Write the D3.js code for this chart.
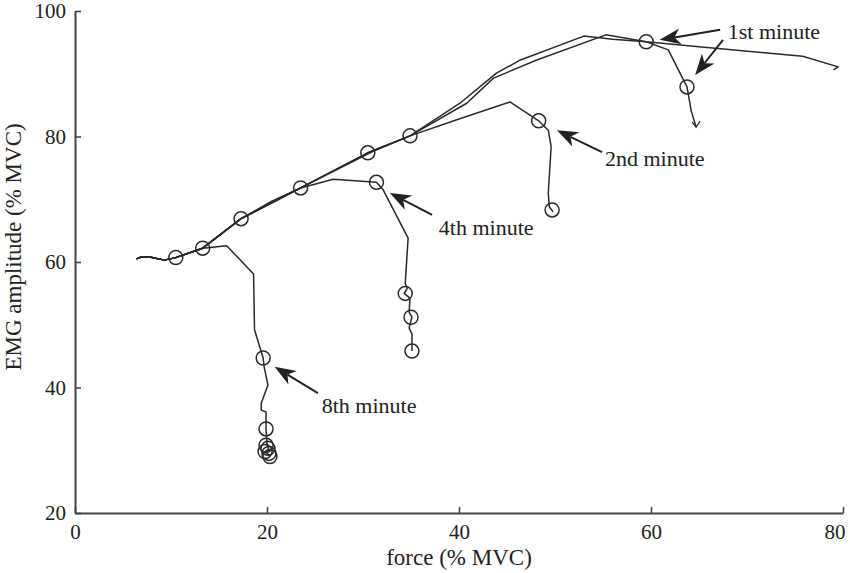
<!DOCTYPE html>
<html>
<head>
<meta charset="utf-8">
<script src="https://cdn.jsdelivr.net/npm/d3@7"></script>
<style>
  body { margin: 0; background: #fff; }
  svg { display: block; }
</style>
</head>
<body>
<svg width="850" height="573"></svg>
<script>
// Tick values for the two axes
var xTicks = [0, 20, 40, 60, 80];
var yTicks = [20, 40, 60, 80, 100];

// Shared start of every trace (low force, ~60 % EMG)
var startPath = [[6.4, 60.5], [6.9, 60.8], [7.8, 60.8], [9.3, 60.3], [10.5, 60.7], [13.3, 62.2]];

// EMG amplitude vs force traces, [force, emg]
var trace8th = [[15.8, 62.6], [18.6, 58.1], [18.7, 49.2], [19.6, 44.7], [19.7, 43.3], [20.1, 40.4],
    [19.4, 37.5], [19.4, 36.4], [19.9, 36.1], [19.9, 33.4], [20.0, 31.0], [20.2, 30.0], [19.9, 29.6], [20.3, 29.2]];
var trace4th = [[17.3, 66.9], [20.5, 69.5], [23.5, 71.8], [26.9, 73.2], [31.4, 72.7], [32.1, 71.5], [34.7, 63.8],
    [34.4, 56.6], [34.6, 55.8], [34.3, 55.0], [34.9, 54.2], [34.8, 52.0], [35.1, 51.2], [34.8, 49.5], [35.1, 48.5], [35.1, 45.8]];
var trace2nd = [[17.3, 66.9], [23.5, 71.8], [30.5, 77.4], [34.9, 80.1], [40.0, 82.8], [45.3, 85.5], [48.3, 82.5],
    [49.3, 81.0], [49.6, 78.4], [49.3, 71.0], [49.4, 68.8], [49.8, 68.0]];
var trace1stA = [[17.3, 66.9], [20.5, 69.7], [23.5, 71.8], [30.5, 77.4], [34.9, 80.1], [40.1, 85.3], [43.9, 90.1],
    [46.4, 92.2], [53.0, 96.0], [56.0, 95.5], [59.5, 95.1], [61.8, 93.8], [63.75, 87.9], [64.2, 84.0], [64.7, 81.5]];
var trace1stB = [[17.3, 66.9], [21.0, 69.8], [23.5, 71.8], [31.0, 77.6], [34.9, 80.1], [40.8, 85.3], [43.6, 89.3],
    [48.1, 92.2], [55.3, 96.2], [59.5, 95.1], [65.0, 94.3], [75.8, 92.8], [79.5, 91.1], [79.0, 90.6]];

// Circled sample points
var markers = [[10.5, 60.7], [13.3, 62.2], [17.3, 66.9], [23.5, 71.8], [30.5, 77.4], [34.9, 80.1],
    [31.4, 72.7], [48.3, 82.5], [49.7, 68.3], [59.5, 95.1], [63.75, 87.9],
    [34.4, 55.0], [35.0, 51.2], [35.1, 45.8], [19.6, 44.7], [19.9, 33.4],
    [19.9, 30.8], [20.1, 30.3], [19.8, 29.8], [20.2, 29.5], [20.3, 29.0]];

// Annotation arrows: tail and tip in data units, label position (left, baseline)
var notes = [
    { label: '1st minute', pos: [68.0, 95.5], arrows: [[[67.2, 97.0], [60.9, 95.4]], [[67.5, 95.4], [64.6, 89.8]]] },
    { label: '2nd minute', pos: [55.2, 75.3], arrows: [[[54.9, 77.5], [50.2, 81.0]]] },
    { label: '4th minute', pos: [37.9, 64.3], arrows: [[[37.2, 67.5], [32.8, 71.0]]] },
    { label: '8th minute', pos: [25.7, 35.9], arrows: [[[25.3, 39.1], [20.8, 43.3]]] }
];

var margin = { top: 11, right: 7, bottom: 60, left: 75 };
var svg = d3.select('svg');
var width = +svg.attr('width') - margin.left - margin.right;
var height = +svg.attr('height') - margin.top - margin.bottom;
var font = '"Liberation Serif", "Times New Roman", serif';
var ink = '#2a2a2a';

var x = d3.scaleLinear().domain([0, 80]).range([0, width]);
var y = d3.scaleLinear().domain([20, 100]).range([height, 0]);

var g = svg.append('g').attr('transform', 'translate(' + margin.left + ',' + margin.top + ')');

// Axes with inward ticks
var xAxis = g.append('g')
    .attr('transform', 'translate(0,' + height + ')')
    .call(d3.axisBottom(x).tickValues(xTicks).tickSizeInner(-6).tickSizeOuter(0).tickPadding(11));
var yAxis = g.append('g')
    .call(d3.axisLeft(y).tickValues(yTicks).tickSizeInner(-6).tickSizeOuter(0).tickPadding(9));

[xAxis, yAxis].forEach(function(a) {
    a.select('.domain').attr('stroke', '#444').attr('stroke-width', 2);
    a.selectAll('.tick line').attr('stroke', '#444').attr('stroke-width', 1.6);
    a.selectAll('.tick text')
        .attr('fill', '#222')
        .style('font-family', font)
        .style('font-size', '21px');
});

// last x label sits flush with the right end of the axis
xAxis.selectAll('.tick text')
    .filter(function(d) { return d === 80; })
    .attr('text-anchor', 'end')
    .attr('x', 2);

// Axis titles
g.append('text')
    .attr('x', x(40))
    .attr('y', height + 52)
    .attr('text-anchor', 'middle')
    .attr('fill', '#222')
    .style('font-family', font)
    .style('font-size', '23px')
    .text('force (% MVC)');

g.append('text')
    .attr('transform', 'translate(' + (-54) + ',' + y(62.4) + ') rotate(-90)')
    .attr('text-anchor', 'middle')
    .attr('fill', '#222')
    .style('font-family', font)
    .style('font-size', '23px')
    .text('EMG amplitude (% MVC)');

// Traces
var line = d3.line().x(function(d) { return x(d[0]); }).y(function(d) { return y(d[1]); });
var traces = [trace8th, trace4th, trace2nd, trace1stA, trace1stB];

g.selectAll('.trace')
    .data(traces)
    .enter()
    .append('path')
    .attr('class', 'trace')
    .attr('d', function(d) { return line(startPath.concat(d)); })
    .attr('fill', 'none')
    .attr('stroke', ink)
    .attr('stroke-width', 1.5)
    .attr('stroke-linejoin', 'round');

// Small open arrow at the end of the 1st-minute falling trace
var endPt = trace1stA[trace1stA.length - 1];
g.append('path')
    .attr('d', 'M' + (x(endPt[0]) - 4) + ',' + (y(endPt[1]) - 5) + 'L' + x(endPt[0]) + ',' + y(endPt[1]) +
        'L' + (x(endPt[0]) + 4) + ',' + (y(endPt[1]) - 6))
    .attr('fill', 'none')
    .attr('stroke', ink)
    .attr('stroke-width', 1.3);

// Circle markers
g.selectAll('.marker')
    .data(markers)
    .enter()
    .append('circle')
    .attr('class', 'marker')
    .attr('cx', function(d) { return x(d[0]); })
    .attr('cy', function(d) { return y(d[1]); })
    .attr('r', 7)
    .attr('fill', 'none')
    .attr('stroke', ink)
    .attr('stroke-width', 1.5);

// Annotation arrows (filled notched head) and labels
function drawArrow(tail, tip) {
    var x0 = x(tail[0]), y0 = y(tail[1]), x1 = x(tip[0]), y1 = y(tip[1]);
    var len = Math.hypot(x1 - x0, y1 - y0);
    var ux = (x1 - x0) / len, uy = (y1 - y0) / len;
    var nx = -uy, ny = ux;
    var L = 21, W = 8, notch = 6;
    g.append('line')
        .attr('x1', x0).attr('y1', y0)
        .attr('x2', x1 - (L - notch) * ux).attr('y2', y1 - (L - notch) * uy)
        .attr('stroke', '#222')
        .attr('stroke-width', 2);
    g.append('path')
        .attr('d', 'M' + x1 + ',' + y1 +
            'L' + (x1 - L * ux + W * nx) + ',' + (y1 - L * uy + W * ny) +
            'L' + (x1 - (L - notch) * ux) + ',' + (y1 - (L - notch) * uy) +
            'L' + (x1 - L * ux - W * nx) + ',' + (y1 - L * uy - W * ny) + 'Z')
        .attr('fill', '#222');
}

notes.forEach(function(n) {
    n.arrows.forEach(function(a) { drawArrow(a[0], a[1]); });
    g.append('text')
        .attr('x', x(n.pos[0]))
        .attr('y', y(n.pos[1]))
        .attr('fill', '#222')
        .style('font-family', font)
        .style('font-size', '22px')
        .text(n.label);
});
</script>
</body>
</html>
